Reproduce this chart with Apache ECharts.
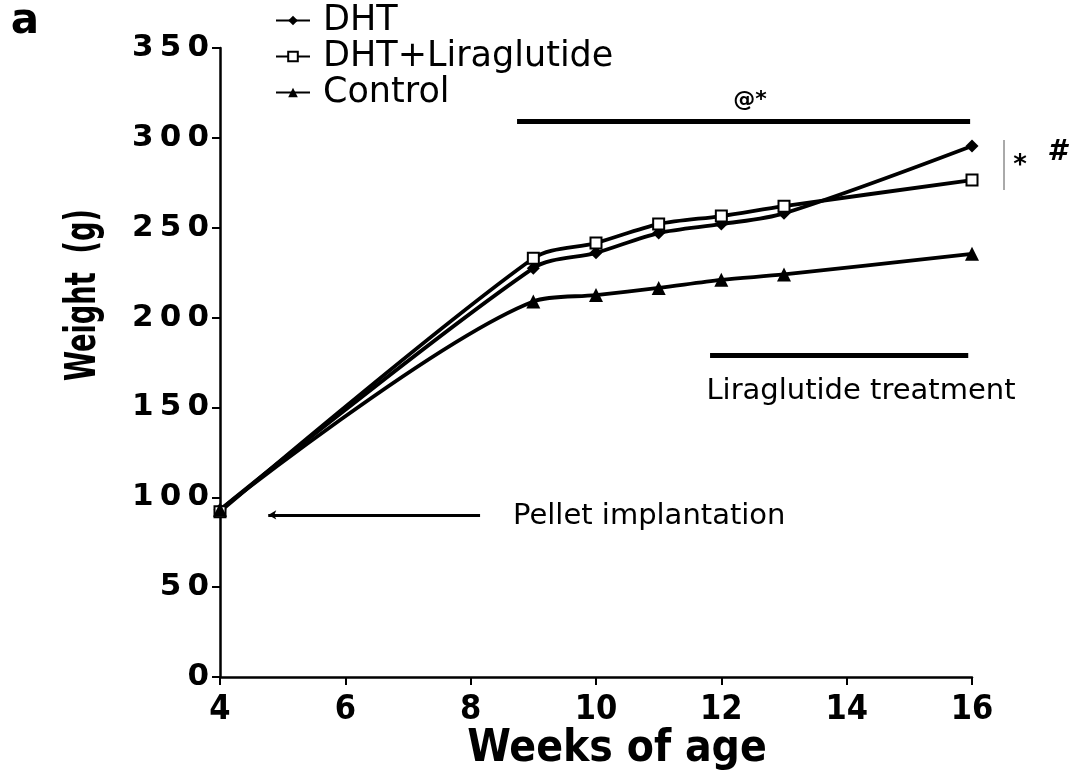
<!DOCTYPE html>
<html>
<head>
<meta charset="utf-8">
<script src="https://cdn.jsdelivr.net/npm/echarts@6/dist/echarts.min.js"></script>
<style>html,body{margin:0;padding:0;background:#fff}#c{width:1071px;height:782px}</style>
</head>
<body>
<div id="c"></div>
<script>
const weeks = [4, 9, 10, 11, 12, 13, 16];
const dht = [93, 227.5, 236, 247, 252, 258, 295.5];
const dhtLira = [92, 233, 241.5, 252, 256.5, 262, 276.5];
const control = [93, 209, 212.5, 216.5, 221, 224, 235.5];
const seriesNames = ['DHT', 'DHT+Liraglutide', 'Control'];
const xTicks = [4, 6, 8, 10, 12, 14, 16];
const yTicks = [0, 50, 100, 150, 200, 250, 300, 350];

const pairs = (xs, ys) => xs.map((x, i) => [x, ys[i]]);
const chart = echarts.init(document.getElementById('c'), null, {renderer: 'canvas'});
const lineStyle = {color: '#000', width: 3.8};
const mk = (name, data, symbol, size, fill) => ({
  name, type: 'line', data: pairs(weeks, data), smooth: 0.3,
  symbol, symbolSize: size, showSymbol: true,
  lineStyle, itemStyle: {color: fill, borderColor: '#000', borderWidth: fill === '#fff' ? 2 : 0},
  emphasis: {disabled: true}, z: 3
});
const sDHT = mk(seriesNames[0], dht, 'diamond', 13, '#000');
sDHT.markLine = {
  silent: true, symbol: ['none', 'none'],
  lineStyle: {color: '#000', width: 5, type: 'solid'}, label: {show: false},
  data: [
    [{coord: [8.74, 309.4]}, {coord: [15.97, 309.4]}],
    [{coord: [11.82, 179.2]}, {coord: [15.94, 179.2]}]
  ]
};
const sLira = mk(seriesNames[1], dhtLira, 'rect', 11, '#fff');
sLira.markLine = {
  silent: true, symbol: ['none', 'arrow'], symbolSize: [7, 8],
  lineStyle: {color: '#000', width: 3, type: 'solid'}, label: {show: false},
  data: [[{coord: [8.15, 90.2]}, {coord: [4.77, 90.2]}]]
};
const sCtrl = mk(seriesNames[2], control, 'triangle', 14, '#000');

chart.setOption({
  animation: false,
  grid: {left: 220, right: 99, top: 48, bottom: 105, containLabel: false},
  legend: {
    orient: 'vertical', left: 270, top: -2, itemWidth: 34, itemHeight: 12, itemGap: 1,
    data: seriesNames,
    textStyle: {fontFamily: 'DejaVu Sans', fontSize: 35, color: '#000', lineHeight: 32, padding: [0, 0, 0, 8]},
    selectedMode: false
  },
  xAxis: {
    type: 'value', min: 4, max: 16, interval: 2,
    axisLine: {show: true, onZero: false, lineStyle: {color: '#000', width: 2.5}},
    axisTick: {show: true, length: 8, lineStyle: {color: '#000', width: 2}},
    splitLine: {show: false},
    axisLabel: {margin: 16, color: '#000', fontFamily: 'DejaVu Sans Condensed', fontWeight: 'bold', fontSize: 34,
      formatter: v => xTicks.includes(v) ? String(v) : ''}
  },
  yAxis: {
    type: 'value', min: 0, max: 350, interval: 50,
    axisLine: {show: true, lineStyle: {color: '#000', width: 2.5}},
    axisTick: {show: true, length: 8, lineStyle: {color: '#000', width: 2}},
    splitLine: {show: false},
    axisLabel: {margin: 11, color: '#000', fontFamily: 'DejaVu Sans', fontWeight: 'bold', fontSize: 31,
      formatter: v => yTicks.includes(v) ? String(v).split('').join('\u2009') : ''}
  },
  graphic: [
    {type: 'text', x: 25, y: 22, style: {text: 'a', font: '900 42px "DejaVu Sans"', fill: '#000', align: 'center', verticalAlign: 'middle'}},
    {type: 'text', x: 84, y: 295, rotation: Math.PI / 2, scaleX: 0.72,
      style: {text: 'Weight  (g)', font: 'bold 42px "DejaVu Sans Condensed"', fill: '#000', align: 'center', verticalAlign: 'middle'}},
    {type: 'text', x: 617, y: 750,
      style: {text: 'Weeks of age', font: 'bold 44px "DejaVu Sans Condensed"', fill: '#000', align: 'center', verticalAlign: 'middle'}},
    {type: 'text', x: 750, y: 100,
      style: {text: '@*', font: 'bold 22px "DejaVu Sans"', fill: '#000', align: 'center', verticalAlign: 'middle'}},
    {type: 'text', x: 861, y: 391,
      style: {text: 'Liraglutide treatment', font: '29px "DejaVu Sans"', fill: '#000', align: 'center', verticalAlign: 'middle'}},
    {type: 'text', x: 513, y: 516,
      style: {text: 'Pellet implantation', font: '29px "DejaVu Sans"', fill: '#000', align: 'left', verticalAlign: 'middle'}},
    {type: 'line', shape: {x1: 1004, y1: 140, x2: 1004, y2: 190}, style: {stroke: '#555', lineWidth: 1}},
    {type: 'text', x: 1020, y: 166,
      style: {text: '*', font: 'bold 26px "DejaVu Sans"', fill: '#000', align: 'center', verticalAlign: 'middle'}},
    {type: 'text', x: 1057, y: 153,
      style: {text: '#', font: 'bold italic 28px "DejaVu Sans"', fill: '#000', align: 'center', verticalAlign: 'middle'}}
  ],
  series: [sDHT, sLira, sCtrl]
});
</script>
</body>
</html>
